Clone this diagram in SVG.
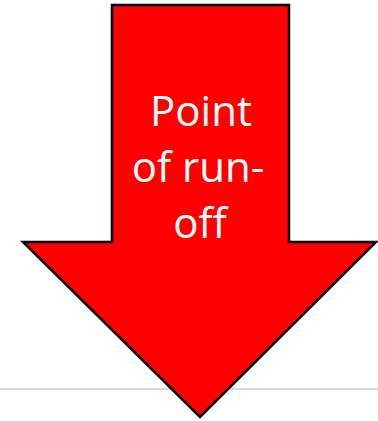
<svg xmlns="http://www.w3.org/2000/svg" width="378" height="421" viewBox="0 0 378 421">
<style>
.arrow{fill:#ff0000;stroke:#000;stroke-width:2.5;stroke-linejoin:miter}
.lbl{font-family:"Open Sans","Liberation Sans",sans-serif;font-size:42px;fill:#fff;text-anchor:middle}
</style>
<rect width="378" height="421" fill="#fff"/>
<line x1="0" y1="389" x2="378" y2="389" stroke="#d9d9d9" stroke-width="2"/>
<g id="arrow">
<polygon class="arrow" points="112,5 289,5 289,242 376,242 200,417 23,242 112,242"/>
<text class="lbl" x="201" y="126">Point</text>
<text class="lbl" x="198" y="182">of run-</text>
<text class="lbl" x="200" y="238">off</text>
</g>
</svg>
